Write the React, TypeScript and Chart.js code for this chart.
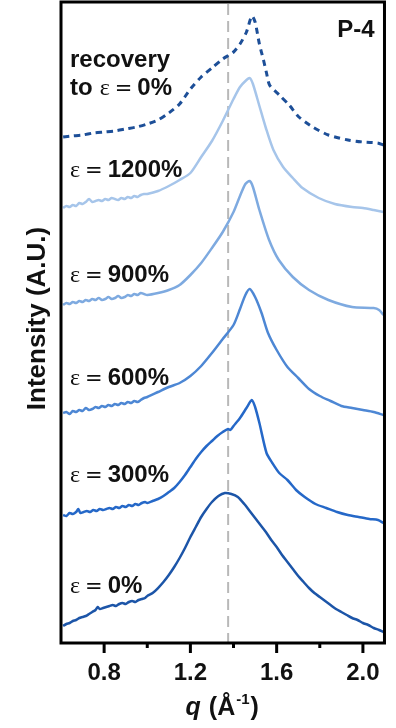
import { useEffect, useRef } from "react";
import { Chart, registerables } from "chart.js";

Chart.register(...registerables);

// Intensity (arbitrary units, offset per curve) vs q (Å^-1)
const strain0: [number, number][] = [
  [0.61, 17], [0.625, 19], [0.64, 20], [0.655, 22], [0.67, 23], [0.685, 25], [0.7, 26], [0.715, 27],
  [0.73, 29], [0.745, 31], [0.76, 33], [0.77, 36], [0.78, 34], [0.795, 35], [0.81, 36], [0.825, 37],
  [0.84, 38], [0.855, 37], [0.87, 39], [0.885, 40], [0.9, 39], [0.915, 41], [0.93, 42], [0.945, 41],
  [0.96, 43], [0.975, 44], [0.99, 45], [1.0, 47], [1.025, 50], [1.05, 55], [1.075, 61], [1.1, 68],
  [1.125, 76], [1.15, 85], [1.175, 95], [1.2, 106], [1.225, 116], [1.25, 126], [1.275, 134], [1.3, 141],
  [1.33, 147], [1.36, 150], [1.39, 149], [1.42, 146], [1.45, 139], [1.475, 132], [1.5, 125], [1.525, 118],
  [1.55, 111], [1.575, 103], [1.6, 96], [1.625, 88], [1.65, 81], [1.675, 74], [1.7, 67], [1.725, 61],
  [1.75, 55], [1.775, 50], [1.8, 46], [1.825, 42], [1.85, 38], [1.875, 34], [1.9, 31], [1.925, 28],
  [1.95, 25], [1.975, 23], [2.0, 20], [2.025, 18], [2.05, 15], [2.075, 13], [2.095, 11],
];
const strain300: [number, number][] = [
  [0.61, 128], [0.625, 127], [0.64, 130], [0.655, 129], [0.67, 131], [0.68, 134], [0.69, 130],
  [0.705, 131], [0.72, 132], [0.735, 131], [0.75, 133], [0.765, 132], [0.78, 134], [0.795, 133],
  [0.81, 134], [0.825, 135], [0.84, 134], [0.855, 136], [0.87, 135], [0.885, 137], [0.9, 136],
  [0.915, 138], [0.93, 137], [0.945, 139], [0.96, 138], [0.975, 140], [0.99, 141], [1.0, 140],
  [1.025, 142], [1.05, 144], [1.075, 147], [1.1, 151], [1.125, 155], [1.15, 161], [1.175, 168],
  [1.2, 176], [1.225, 184], [1.25, 191], [1.275, 197], [1.3, 202], [1.325, 207], [1.35, 211],
  [1.375, 214], [1.385, 213], [1.4, 217], [1.43, 225], [1.46, 235], [1.485, 243], [1.5, 236],
  [1.52, 220], [1.553, 190], [1.58, 180], [1.612, 170], [1.65, 163], [1.69, 153], [1.73, 146],
  [1.78, 139], [1.83, 135], [1.88, 131], [1.93, 128], [1.98, 126], [2.03, 124], [2.07, 123], [2.095, 120],
];
const strain600: [number, number][] = [
  [0.61, 230], [0.625, 231], [0.64, 229], [0.655, 232], [0.67, 231], [0.685, 233], [0.7, 232],
  [0.715, 235], [0.73, 233], [0.745, 234], [0.76, 236], [0.775, 235], [0.79, 237], [0.805, 236],
  [0.82, 238], [0.835, 237], [0.85, 239], [0.865, 238], [0.88, 240], [0.895, 239], [0.91, 241],
  [0.925, 240], [0.94, 242], [0.955, 241], [0.97, 243], [0.985, 245], [1.0, 246], [1.05, 251],
  [1.1, 256], [1.15, 260], [1.2, 267], [1.25, 277], [1.3, 290], [1.35, 304], [1.4, 318], [1.43, 334],
  [1.455, 348], [1.475, 354], [1.5, 346], [1.53, 330], [1.56, 310], [1.6, 293], [1.65, 276], [1.7, 265],
  [1.75, 254], [1.8, 247], [1.85, 242], [1.9, 237], [1.95, 235], [2.0, 233], [2.05, 231], [2.095, 228],
];
const strain900: [number, number][] = [
  [0.61, 338], [0.625, 340], [0.64, 339], [0.655, 341], [0.67, 340], [0.685, 342], [0.7, 341],
  [0.715, 343], [0.73, 342], [0.745, 344], [0.76, 343], [0.775, 345], [0.79, 343], [0.805, 344],
  [0.82, 346], [0.835, 344], [0.85, 345], [0.865, 347], [0.88, 345], [0.895, 346], [0.91, 348],
  [0.925, 347], [0.94, 349], [0.955, 348], [0.97, 350], [0.985, 349], [1.0, 348], [1.05, 350],
  [1.1, 353], [1.15, 358], [1.2, 368], [1.25, 380], [1.3, 395], [1.35, 411], [1.4, 431], [1.43, 447],
  [1.455, 459], [1.475, 462], [1.49, 456], [1.52, 433], [1.565, 403], [1.61, 383], [1.675, 366],
  [1.75, 353], [1.84, 343], [1.95, 336], [2.05, 335], [2.075, 333], [2.095, 328],
];
const strain1200: [number, number][] = [
  [0.61, 435], [0.625, 437], [0.64, 436], [0.655, 438], [0.67, 437], [0.685, 440], [0.7, 439],
  [0.715, 441], [0.73, 444], [0.745, 441], [0.76, 442], [0.775, 443], [0.79, 442], [0.805, 444],
  [0.82, 443], [0.835, 445], [0.85, 444], [0.865, 443], [0.88, 445], [0.895, 444], [0.91, 446],
  [0.925, 445], [0.94, 447], [0.955, 446], [0.97, 448], [0.985, 449], [1.0, 449], [1.05, 452],
  [1.1, 457], [1.15, 463], [1.2, 470], [1.25, 486], [1.3, 502], [1.35, 522], [1.4, 544], [1.43, 556],
  [1.46, 563], [1.475, 565], [1.49, 559], [1.52, 537], [1.55, 515], [1.585, 493], [1.63, 476],
  [1.675, 465], [1.72, 455], [1.795, 445], [1.87, 439], [1.95, 436], [2.0, 435], [2.05, 433], [2.095, 431],
];
const recovery: [number, number][] = [
  [0.61, 506], [0.65, 507], [0.7, 508], [0.75, 510], [0.8, 511], [0.85, 512], [0.9, 514], [0.95, 516],
  [1.0, 519], [1.05, 523], [1.1, 530], [1.15, 539], [1.2, 554], [1.25, 566], [1.3, 575], [1.35, 584],
  [1.4, 591], [1.43, 599], [1.46, 611], [1.485, 627], [1.5, 621], [1.52, 599], [1.539, 583], [1.553, 570],
  [1.567, 558], [1.612, 548], [1.658, 538], [1.703, 526], [1.767, 516], [1.84, 508], [1.931, 503],
  [2.0, 501], [2.068, 500], [2.095, 498],
];

const strainSeries = [strain0, strain300, strain600, strain900, strain1200];
const strainNames = ["0%", "300%", "600%", "900%", "1200%"];
const strainColors = ["#1c55a8", "#2568c8", "#4d87d4", "#7eaae0", "#a6c5ea"];
const strainLabelY = [50, 161, 258, 361, 466];
const recoveryColor = "#1d4f98";
const recoveryLabelY = [576, 548];

const majorTicks = [0.8, 1.2, 1.6, 2.0];
const minorTicks = [1.0, 1.4, 1.8];
const refLineQ = 1.375;

const SANS = '"Liberation Sans", Arial, sans-serif';
const SERIF = '"Liberation Serif", "Times New Roman", serif';

function drawStrain(ctx: CanvasRenderingContext2D, x: number, y: number, value: string, prefix?: string) {
  ctx.textAlign = "left";
  ctx.textBaseline = "alphabetic";
  ctx.fillStyle = "#111";
  let cx = x;
  if (prefix) {
    ctx.font = `bold 24px ${SANS}`;
    ctx.fillText(prefix, cx, y);
    cx += ctx.measureText(prefix).width + 7;
  }
  ctx.font = `24px ${SERIF}`;
  ctx.fillText("ε", cx, y);
  cx += ctx.measureText("ε").width + 5;
  ctx.font = `21px "DejaVu Sans", sans-serif`;
  ctx.fillText("=", cx, y);
  cx += ctx.measureText("=").width + 5;
  ctx.font = `bold 24px ${SANS}`;
  ctx.fillText(value, cx, y);
}

const decorPlugin = {
  id: "decor",
  beforeDatasetsDraw(chart: any) {
    const { ctx, chartArea, scales } = chart;
    const x = scales.x.getPixelForValue(refLineQ);
    ctx.save();
    ctx.strokeStyle = "#b8b8b8";
    ctx.lineWidth = 2;
    ctx.setLineDash([11, 6]);
    ctx.beginPath();
    ctx.moveTo(x, chartArea.top + 2);
    ctx.lineTo(x, chartArea.bottom);
    ctx.stroke();
    ctx.restore();
  },
  afterDatasetsDraw(chart: any) {
    const { ctx, chartArea, scales } = chart;
    const xs = scales.x;
    const ys = scales.y;
    ctx.save();
    ctx.strokeStyle = "#000";
    ctx.lineWidth = 3;
    ctx.strokeRect(chartArea.left, chartArea.top, chartArea.right - chartArea.left, chartArea.bottom - chartArea.top);
    majorTicks.forEach((v) => {
      const px = xs.getPixelForValue(v);
      ctx.beginPath();
      ctx.moveTo(px, chartArea.bottom);
      ctx.lineTo(px, chartArea.bottom + 10);
      ctx.stroke();
    });
    minorTicks.forEach((v) => {
      const px = xs.getPixelForValue(v);
      ctx.beginPath();
      ctx.moveTo(px, chartArea.bottom);
      ctx.lineTo(px, chartArea.bottom + 5);
      ctx.stroke();
    });
    const lx = chartArea.left + 9;
    strainNames.forEach((n, i) => {
      drawStrain(ctx, lx, ys.getPixelForValue(strainLabelY[i]), n);
    });
    ctx.font = `bold 24px ${SANS}`;
    ctx.fillStyle = "#111";
    ctx.textAlign = "left";
    ctx.textBaseline = "alphabetic";
    ctx.fillText("recovery", lx, ys.getPixelForValue(recoveryLabelY[0]));
    drawStrain(ctx, lx, ys.getPixelForValue(recoveryLabelY[1]), "0%", "to");
    ctx.font = `bold 24px ${SANS}`;
    ctx.textAlign = "right";
    ctx.fillText("P-4", chartArea.right - 10, chartArea.top + 35);
    ctx.save();
    ctx.translate(38, (chartArea.top + chartArea.bottom) / 2 - 4);
    ctx.rotate(-Math.PI / 2);
    ctx.font = `bold 26px ${SANS}`;
    ctx.textAlign = "center";
    ctx.textBaseline = "middle";
    ctx.fillText("Intensity (A.U.)", 0, 0);
    ctx.restore();
    const big = `bold 25px ${SANS}`;
    const bigIt = `italic bold 25px ${SANS}`;
    const small = `bold 15px ${SANS}`;
    const parts: [string, string, number][] = [
      ["q", bigIt, 0],
      [" (Å", big, 0],
      ["-1", small, -11],
      [")", big, 0],
    ];
    let total = 0;
    parts.forEach(([t, f]) => {
      ctx.font = f;
      total += ctx.measureText(t).width + 1;
    });
    let cx = (chartArea.left + chartArea.right) / 2 - total / 2;
    const by = chartArea.bottom + 72;
    ctx.textAlign = "left";
    parts.forEach(([t, f, dy]) => {
      ctx.font = f;
      ctx.fillText(t, cx, by + dy);
      cx += ctx.measureText(t).width + 1;
    });
    ctx.restore();
  },
};

export default function App() {
  const ref = useRef<HTMLCanvasElement | null>(null);
  useEffect(() => {
    document.body.style.margin = "0";
    const canvas = ref.current;
    if (!canvas) return;
    const datasets: any[] = strainSeries.map((s, i) => ({
      label: "ε = " + strainNames[i],
      data: s.map(([x, y]) => ({ x, y })),
      borderColor: strainColors[i],
      borderWidth: 2.5,
      pointRadius: 0,
      tension: 0.25,
      fill: false,
    }));
    datasets.push({
      label: "recovery to ε = 0%",
      data: recovery.map(([x, y]) => ({ x, y })),
      borderColor: recoveryColor,
      borderWidth: 3,
      borderDash: [6, 5],
      pointRadius: 0,
      tension: 0.25,
      fill: false,
    });
    const chart = new Chart(canvas, {
      type: "line",
      data: { datasets },
      options: {
        animation: false,
        responsive: false,
        maintainAspectRatio: false,
        layout: { padding: { left: 61, right: 6, top: 2, bottom: 0 } },
        plugins: { legend: { display: false }, tooltip: { enabled: false } },
        scales: {
          x: {
            type: "linear",
            min: 0.6,
            max: 2.1,
            grid: { display: false, drawTicks: false },
            border: { display: false },
            afterBuildTicks: (scale: any) => {
              scale.ticks = majorTicks.map((v) => ({ value: v }));
            },
            afterFit: (scale: any) => {
              scale.height = 85;
            },
            ticks: {
              color: "#111",
              padding: 16,
              font: { family: SANS, size: 24, weight: "bold" },
              callback: (v: any) => Number(v).toFixed(1),
              maxRotation: 0,
              autoSkip: false,
            },
          },
          y: {
            display: false,
            min: 0,
            max: 641,
          },
        },
      },
      plugins: [decorPlugin],
    });
    return () => chart.destroy();
  }, []);
  return <canvas ref={ref} width={396} height={728} style={{ display: "block" }} />;
}
